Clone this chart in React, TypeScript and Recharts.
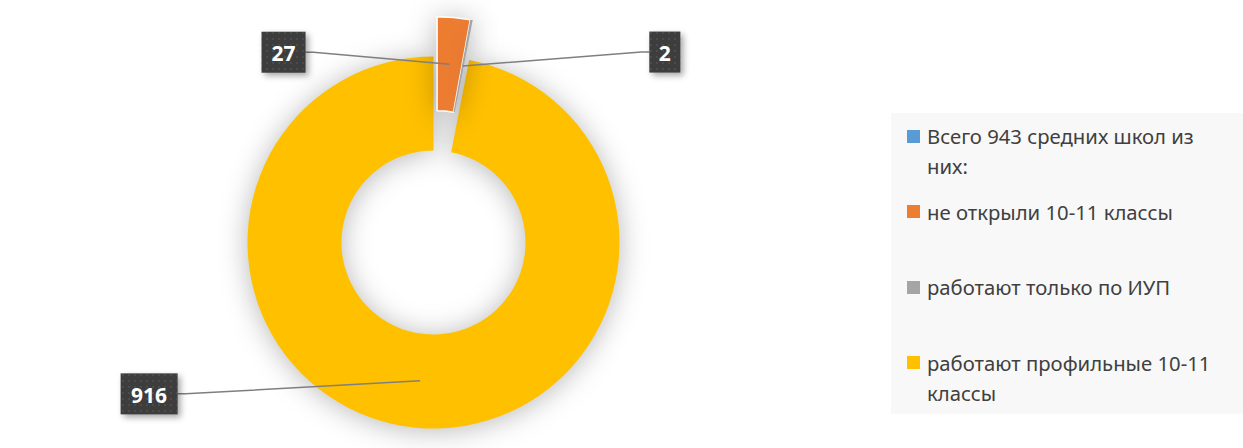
import React from 'react';
import { PieChart, Pie, Cell, Legend } from 'recharts';

const categories = [
  'Всего 943 средних школ из них:',
  'не открыли 10-11 классы',
  'работают только по ИУП',
  'работают профильные 10-11 классы',
];
const values = [0, 27, 2, 916];
const colors = ['#5b9bd5', '#ed7d31', '#a5a5a5', '#ffc000'];
// which slices are pulled out of the ring
const exploded = [false, true, true, false];
// label box centre relative to the slice anchor
const labelOffsets = [null, { dx: -166, dy: -12 }, { dx: 202, dy: -14 }, { dx: -271, dy: 13 }];

const data = categories.map((name, i) => ({ name, value: values[i] }));

const CX = 433.5;
const CY = 242.5;
const INNER = 92;
const OUTER = 186;
const EXPLODE = 40;
const RAD = Math.PI / 180;

// pull-out direction = mid angle of the first exploded slice
const total = values.reduce((s, v) => s + v, 0);
const firstEx = exploded.indexOf(true);
const before = values.slice(0, firstEx).reduce((s, v) => s + v, 0);
const exMid = 90 - (360 * (before + values[firstEx] / 2)) / total;
const EX_CX = CX + EXPLODE * Math.cos(exMid * RAD);
const EX_CY = CY - EXPLODE * Math.sin(exMid * RAD);

const makeLabel = (forExploded: boolean) => (props: any) => {
  const { cx, cy, midAngle, innerRadius, outerRadius, index, value } = props;
  const off = labelOffsets[index];
  if (!value || !off || exploded[index] !== forExploded) return null;
  const r = (innerRadius + outerRadius) / 2;
  const ax = cx + r * Math.cos(-midAngle * RAD);
  const ay = cy + r * Math.sin(-midAngle * RAD);
  const bx = ax + off.dx;
  const by = ay + off.dy;
  const text = String(value);
  const w = text.length * 13 + 18;
  const h = 41;
  const edge = off.dx < 0 ? bx + w / 2 : bx - w / 2;
  const kink = off.dx < 0 ? edge + 8 : edge - 8;
  const pid = `dots${index}`;
  return (
    <g key={`lbl-${index}`}>
      <defs>
        <pattern id={pid} width={6} height={6} patternUnits="userSpaceOnUse">
          <circle cx={3} cy={3} r={0.8} fill="#5c5c5c" />
        </pattern>
      </defs>
      <polyline
        points={`${ax},${ay} ${kink},${by} ${edge},${by}`}
        fill="none"
        stroke="#7f7f7f"
        strokeWidth={1.5}
      />
      <rect
        x={bx - w / 2}
        y={by - h / 2}
        width={w}
        height={h}
        fill="#3d3d3d"
        style={{ filter: 'drop-shadow(3px 3px 3px rgba(0,0,0,0.35))' }}
      />
      <rect x={bx - w / 2} y={by - h / 2} width={w} height={h} fill={`url(#${pid})`} />
      <text
        x={bx}
        y={by + 1}
        textAnchor="middle"
        dominantBaseline="central"
        fill="#ffffff"
        fontWeight="bold"
        fontSize={21}
        fontFamily='"Noto Sans", sans-serif'
      >
        {text}
      </text>
    </g>
  );
};

function LegendBox() {
  return (
    <div
      style={{
        background: '#f8f8f8',
        width: 352,
        height: 301,
        boxSizing: 'border-box',
        padding: '8px 0 0 16px',
        fontFamily: '"Noto Sans", sans-serif',
        fontSize: 20.3,
        color: '#404040',
      }}
    >
      {categories.map((c, i) => (
        <div key={c} style={{ display: 'flex', alignItems: 'flex-start', height: 75.5 }}>
          <span
            style={{
              width: 13,
              height: 13,
              background: colors[i],
              marginTop: 8.5,
              marginRight: 7,
              flexShrink: 0,
            }}
          />
          <span style={{ width: 300, lineHeight: '30px' }}>{c}</span>
        </div>
      ))}
    </div>
  );
}

export default function App() {
  return (
    <div style={{ position: 'absolute', left: 0, top: 0, width: 1243, height: 448, background: '#fff' }}>
      <style>{`.donut .recharts-pie-sector path { filter: drop-shadow(0px 2px 14px rgba(0,0,0,0.28)); }`}</style>
      <PieChart width={1243} height={448} margin={{ top: 0, right: 0, bottom: 0, left: 0 }}>
        <Pie
          className="donut"
          data={data}
          dataKey="value"
          nameKey="name"
          cx={CX}
          cy={CY}
          innerRadius={INNER}
          outerRadius={OUTER}
          startAngle={90}
          endAngle={-270}
          isAnimationActive={false}
          label={makeLabel(false)}
          labelLine={false}
        >
          {data.map((d, i) => (
            <Cell
              key={d.name}
              fill={exploded[i] || !values[i] ? 'none' : colors[i]}
              stroke="none"
            />
          ))}
        </Pie>
        <Pie
          className="donut"
          data={data}
          dataKey="value"
          nameKey="name"
          cx={EX_CX}
          cy={EX_CY}
          innerRadius={INNER}
          outerRadius={OUTER}
          startAngle={90}
          endAngle={-270}
          isAnimationActive={false}
          label={makeLabel(true)}
          labelLine={false}
        >
          {data.map((d, i) => (
            <Cell
              key={d.name}
              fill={exploded[i] ? colors[i] : 'none'}
              stroke={exploded[i] && i === firstEx ? '#ffffff' : 'none'}
              strokeWidth={1.5}
            />
          ))}
        </Pie>
        <Legend
          content={() => <LegendBox />}
          wrapperStyle={{ position: 'absolute', left: 891, top: 113, width: 352, height: 301, right: 'auto', bottom: 'auto' }}
        />
      </PieChart>
    </div>
  );
}
